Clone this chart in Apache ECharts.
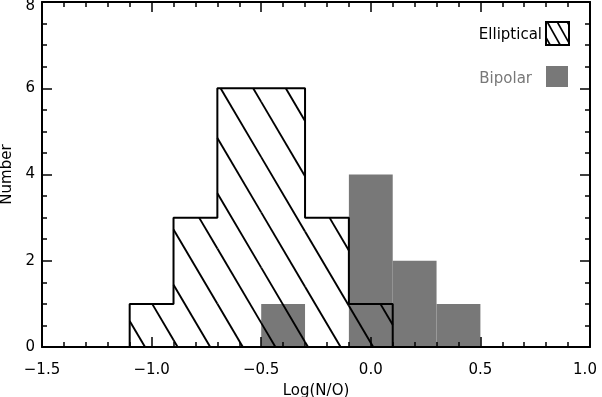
<!DOCTYPE html>
<html>
<head>
<meta charset="utf-8">
<script src="https://cdn.jsdelivr.net/npm/echarts@6/dist/echarts.min.js"></script>
<style>
    html, body { margin: 0; padding: 0; background: #fff; }
    #chartWrapper { width: 602px; height: 397px; }
</style>
</head>
<body>
<div id="chartWrapper"></div>
<script>
// histogram bins (edges) and counts
let ellipticalEdges = [-1.1, -0.9, -0.7, -0.5, -0.3, -0.1, 0.1];
let ellipticalCounts = [1, 3, 6, 6, 3, 1];
let bipolarEdges = [-0.5, -0.3, -0.1, 0.1, 0.3, 0.5];
let bipolarCounts = [1, 0, 4, 2, 1];
let seriesNames = ['Elliptical', 'Bipolar'];

let fontName = 'DejaVu Sans';
let grayColor = '#787878';

// hatch lines x = c + slope * y (pixels), c = phase + k * gap, clipped to a box
function hatchLines(x0, y0, x1, y1, phase, gap, slope, width) {
    let out = [];
    let cMin = x0 - slope * y1;
    let cMax = x1 - slope * y0;
    let kStart = Math.ceil((cMin - phase) / gap);
    let kEnd = Math.floor((cMax - phase) / gap);
    for (let k = kStart; k <= kEnd; k++) {
        let c = phase + k * gap;
        let ya = Math.max(y0, (x0 - c) / slope);
        let yb = Math.min(y1, (x1 - c) / slope);
        if (yb - ya > 0.5) {
            out.push({
                type: 'line',
                shape: { x1: c + slope * ya, y1: ya, x2: c + slope * yb, y2: yb },
                style: { stroke: '#000', lineWidth: width }
            });
        }
    }
    return out;
}

// step outline of a histogram
function stepOutline(edges, counts) {
    let pts = [[edges[0], 0]];
    for (let i = 0; i < counts.length; i++) {
        pts.push([edges[i], counts[i]]);
        pts.push([edges[i + 1], counts[i]]);
    }
    pts.push([edges[edges.length - 1], 0]);
    return pts;
}

function binData(edges, counts) {
    let out = [];
    for (let i = 0; i < counts.length; i++) {
        if (counts[i] > 0) {
            out.push([edges[i], edges[i + 1], counts[i]]);
        }
    }
    return out;
}

function fmtX(v) {
    let s = v.toFixed(1).replace('-', '\u2212');
    return v === 1 ? '{r|' + s + '}' : s;
}

function fmtY(v) {
    return v === 8 ? '{t|' + v + '}' : String(v);
}

let labelFont = { fontFamily: fontName, fontSize: 15, color: '#000' };

let myChart = echarts.init(document.getElementById('chartWrapper'));

let tickCommon = {
    axisLine: { show: true, onZero: false, lineStyle: { color: '#000', width: 2 } },
    axisTick: { show: true, inside: true, length: 10, lineStyle: { color: '#000', width: 1.5 } },
    minorTick: { show: true, length: 5, lineStyle: { color: '#000', width: 1.5 } },
    splitLine: { show: false },
    minorSplitLine: { show: false }
};

let option = {
    animation: false,
    grid: { left: 42, right: 12, top: 2, bottom: 50, outerBoundsMode: 'none', containLabel: false },
    xAxis: [
        Object.assign({
            type: 'value', min: -1.5, max: 1.0, interval: 0.5, position: 'bottom', z: 10,
            name: 'Log(N/O)', nameLocation: 'middle', nameGap: 37,
            nameTextStyle: labelFont,
            axisLabel: Object.assign({ formatter: fmtX, margin: 16,
                rich: { r: Object.assign({ padding: [0, 10, 0, 0] }, labelFont) } }, labelFont)
        }, tickCommon, { minorTick: Object.assign({ splitNumber: 5 }, tickCommon.minorTick) }),
        Object.assign({
            type: 'value', min: -1.5, max: 1.0, interval: 0.5, position: 'top', z: 10,
            axisLabel: { show: false }
        }, tickCommon, { minorTick: Object.assign({ splitNumber: 5 }, tickCommon.minorTick) })
    ],
    yAxis: [
        Object.assign({
            type: 'value', min: 0, max: 8, interval: 2, position: 'left', z: 10,
            name: 'Number', nameLocation: 'middle', nameGap: 18, nameRotate: 90,
            nameTextStyle: labelFont,
            axisLabel: Object.assign({ formatter: fmtY, margin: 7,
                rich: { t: Object.assign({ padding: [9, 0, 0, 0] }, labelFont) } }, labelFont)
        }, tickCommon, { minorTick: Object.assign({ splitNumber: 4 }, tickCommon.minorTick) }),
        Object.assign({
            type: 'value', min: 0, max: 8, interval: 2, position: 'right', z: 10,
            axisLabel: { show: false }
        }, tickCommon, { minorTick: Object.assign({ splitNumber: 4 }, tickCommon.minorTick) })
    ],
    graphic: [
        { type: 'text', right: 602 - 542, top: 28,
          style: { text: seriesNames[0], fontFamily: fontName, fontSize: 15, fill: '#000' } },
        { type: 'group', z: 20,
          children: hatchLines(546, 22, 569, 45, 535, 10, 0.56, 1.6).concat([
              { type: 'rect', shape: { x: 546, y: 22, width: 23, height: 23 },
                style: { fill: 'none', stroke: '#000', lineWidth: 2 } }
          ]) },
        { type: 'text', right: 602 - 532, top: 72,
          style: { text: seriesNames[1], fontFamily: fontName, fontSize: 15, fill: grayColor } },
        { type: 'rect', shape: { x: 546, y: 66, width: 22, height: 21 },
          style: { fill: grayColor }, z: 20 }
    ],
    series: [
        {
            name: seriesNames[1],
            type: 'custom',
            encode: { x: [0, 1], y: 2 },
            z: 2,
            renderItem: function (params, api) {
                let p0 = api.coord([api.value(0), api.value(2)]);
                let p1 = api.coord([api.value(1), 0]);
                return {
                    type: 'rect',
                    shape: { x: p0[0], y: p0[1], width: p1[0] - p0[0], height: p1[1] - p0[1] },
                    style: { fill: grayColor }
                };
            },
            data: binData(bipolarEdges, bipolarCounts)
        },
        {
            name: seriesNames[0],
            type: 'custom',
            encode: { x: [0, 1], y: 2 },
            z: 4,
            renderItem: function (params, api) {
                let p0 = api.coord([api.value(0), api.value(2)]);
                let p1 = api.coord([api.value(1), 0]);
                return {
                    type: 'group',
                    children: hatchLines(p0[0], p0[1], p1[0], p1[1], 168.5, 32.6, 0.59, 1.9)
                };
            },
            data: binData(ellipticalEdges, ellipticalCounts)
        },
        {
            name: seriesNames[0] + ' outline',
            type: 'line',
            z: 5,
            symbol: 'none',
            lineStyle: { color: '#000', width: 2 },
            data: stepOutline(ellipticalEdges, ellipticalCounts)
        }
    ]
};

myChart.setOption(option);
</script>
</body>
</html>
